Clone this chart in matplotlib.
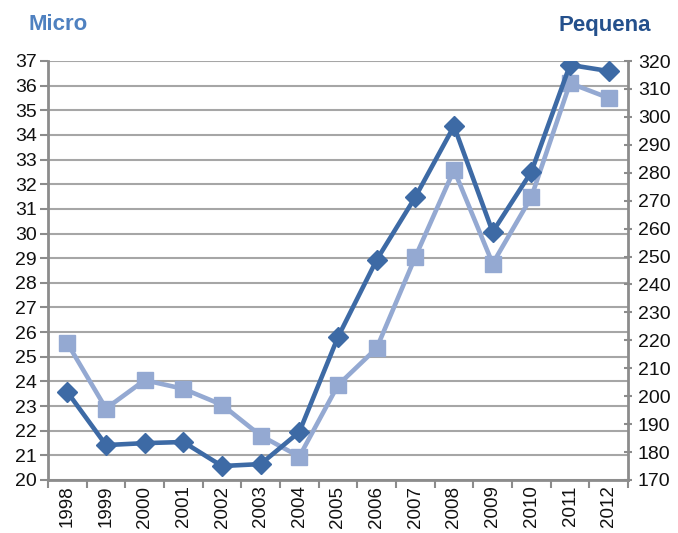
import matplotlib
matplotlib.use("Agg")
import matplotlib.pyplot as plt
from matplotlib import font_manager

names = {f.name for f in font_manager.fontManager.ttflist}
tickfont = "Liberation Sans Narrow" if "Liberation Sans Narrow" in names else "Liberation Sans"

years = ["1998", "1999", "2000", "2001", "2002", "2003", "2004", "2005",
         "2006", "2007", "2008", "2009", "2010", "2011", "2012"]
micro = [25.55, 22.9, 24.05, 23.7, 23.05, 21.8, 20.95, 23.85,
         25.35, 29.05, 32.58, 28.78, 31.48, 36.1, 35.5]
pequena = [201.5, 182.5, 183.2, 183.6, 175.0, 175.7, 187.2, 221.2,
           248.8, 271.3, 296.7, 258.8, 280.3, 318.6, 316.4]
left_ticks = list(range(20, 38))
right_ticks = list(range(170, 330, 10))

dark = "#3D6AA5"
light = "#94A9D2"
grid = "#A6A6A6"
spine = "#8C8C8C"

fig = plt.figure(figsize=(6.78, 5.33), dpi=100)
ax = fig.add_axes([48/678, 1-480/533, 580/678, 419/533])
ax2 = ax.twinx()

x = list(range(len(years)))
ax.plot(x, micro, color=light, lw=3.3, marker="s", ms=12, zorder=3)
ax2.plot(x, pequena, color=dark, lw=3.3, marker="D", ms=10, zorder=4)

ax.set_xlim(-0.5, len(years) - 0.5)
ax.set_ylim(20, 37)
ax2.set_ylim(170, 320)
ax.set_yticks(left_ticks)
ax2.set_yticks(right_ticks)
ax.set_xticks(x)
ax.set_xticklabels(years, rotation=90)
ax.set_xticks([i - 0.5 for i in range(len(years) + 1)], minor=True)
ax.tick_params(axis="x", which="major", length=0, pad=4)
ax.tick_params(axis="x", which="minor", length=6, color=spine, width=1.5, direction="out")

for a in (ax, ax2):
    for s in a.spines.values():
        s.set_visible(False)
ax.spines["left"].set_visible(True)
ax.spines["bottom"].set_visible(True)
ax2.spines["right"].set_visible(True)
for s in (ax.spines["left"], ax.spines["bottom"], ax2.spines["right"]):
    s.set_color(spine)
    s.set_linewidth(2)

ax.grid(axis="y", color=grid, lw=1.5)
ax.set_axisbelow(True)
ax.tick_params(axis="y", length=6, color=spine, width=1.5, direction="out", pad=2)
ax2.tick_params(axis="y", length=6, color=spine, width=1.5, direction="inout", pad=4)

for lab in ax.get_yticklabels() + ax2.get_yticklabels():
    lab.set_fontfamily(tickfont)
    lab.set_fontsize(14)
    lab.set_color("#111111")
for lab in ax.get_xticklabels():
    lab.set_fontfamily(tickfont)
    lab.set_fontsize(13.5)
    lab.set_color("#111111")

fig.text(28/678, 1-25/533, "Micro", color="#4F81C0", fontsize=16, fontweight="bold",
         family="Liberation Sans", va="center", ha="left")
fig.text(651/678, 1-25/533, "Pequena", color="#24508C", fontsize=16, fontweight="bold",
         family="Liberation Sans", va="center", ha="right")

fig.savefig("out.png", dpi=100)
